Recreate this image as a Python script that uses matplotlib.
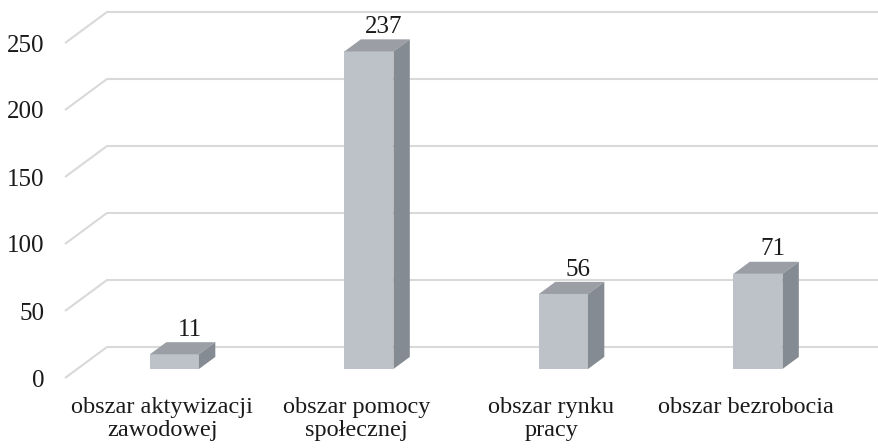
import matplotlib
matplotlib.use("Agg")
import matplotlib.pyplot as plt
from matplotlib.patches import Polygon, Rectangle

categories = ['obszar aktywizacji\nzawodowej', 'obszar pomocy\nspołecznej',
              'obszar rynku\npracy', 'obszar bezrobocia']
values = [11, 237, 56, 71]
yticks = [0, 50, 100, 150, 200, 250]

plt.rcParams['font.family'] = ['Liberation Serif', 'DejaVu Serif']

W, H = 879, 448
fig = plt.figure(figsize=(W / 100, H / 100), dpi=100)
ax = fig.add_axes([65 / W, 70 / H, 778 / W, 335 / H])
ax.set_xlim(-0.5, 3.5)
ax.set_ylim(0, 250)
for s in ax.spines.values():
    s.set_visible(False)

# 3D depth offsets in data units
DX = 42 / 194.5
DY = 31 / 1.34
f0, f1 = 0.29, 0.68
hw = 0.126

grid_c = '#d9d9d9'
for t in yticks:
    ax.plot([-0.5, -0.5 + DX, 3.5 + DX], [t, t + DY, t + DY], color=grid_c,
            lw=1.5, clip_on=False, zorder=1, solid_capstyle='butt')

front_c = '#bdc1c8'
top_c = '#9b9fa5'
side_c = '#858b92'
txt_c = '#1a1a1a'
for i, v in enumerate(values):
    xl, xr = i - hw, i + hw
    ax.add_patch(Rectangle((xl + f0 * DX, f0 * DY), 2 * hw, v, facecolor=front_c,
                           edgecolor='none', clip_on=False, zorder=3))
    ax.add_patch(Polygon([(xl + f0 * DX, v + f0 * DY), (xr + f0 * DX, v + f0 * DY),
                          (xr + f1 * DX, v + f1 * DY), (xl + f1 * DX, v + f1 * DY)],
                         closed=True, facecolor=top_c, edgecolor='none', clip_on=False, zorder=3))
    ax.add_patch(Polygon([(xr + f0 * DX, f0 * DY), (xr + f1 * DX, f1 * DY),
                          (xr + f1 * DX, v + f1 * DY), (xr + f0 * DX, v + f0 * DY)],
                         closed=True, facecolor=side_c, edgecolor='none', clip_on=False, zorder=3))
    ax.text(i + 0.14, v + f1 * DY + 1.0, str(v), ha='center', va='bottom',
            fontsize=18, color=txt_c, zorder=4, clip_on=False)

ax.set_yticks(yticks)
ax.set_yticklabels([str(t) for t in yticks], fontsize=18, color=txt_c)
ax.set_xticks(range(len(categories)))
ax.set_xticklabels(categories, fontsize=17.5, color=txt_c, linespacing=1.12)
ax.tick_params(axis='y', length=0, pad=15)
ax.tick_params(axis='x', length=0, pad=14)

fig.savefig('out.png', dpi=100)
